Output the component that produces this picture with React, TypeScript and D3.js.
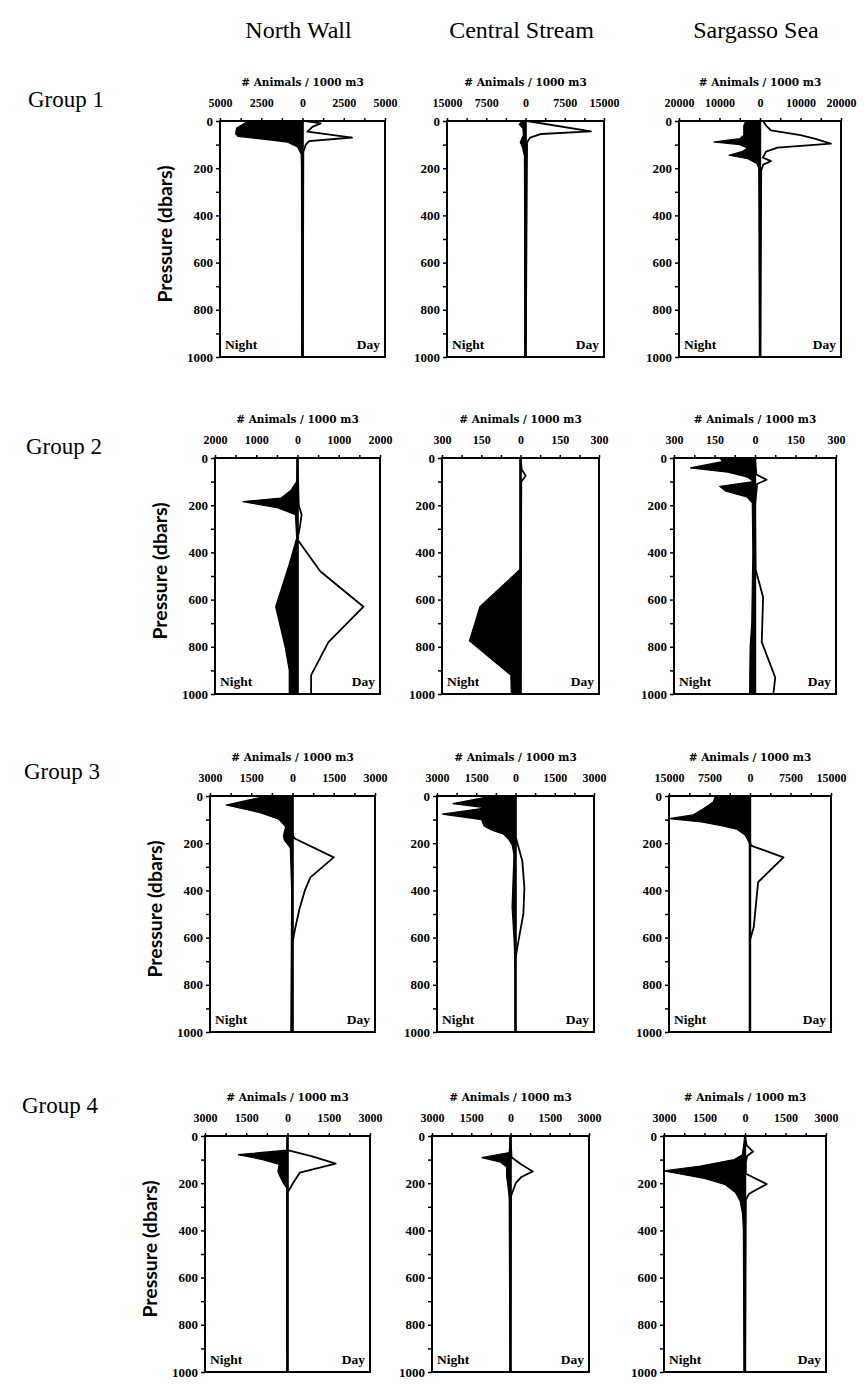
import React, { useEffect, useRef } from 'react';
import * as d3 from 'd3';

type Pt = [number, number]; // [pressure (dbar), animals per 1000 m3]

const columns = ['North Wall', 'Central Stream', 'Sargasso Sea'];
const groups = ['Group 1', 'Group 2', 'Group 3', 'Group 4'];
const pressureTicks = [0, 200, 400, 600, 800, 1000];
// axis half-range per group (rows) and site (columns)
const axisMax = [
  [5000, 15000, 20000],
  [2000, 300, 300],
  [3000, 3000, 15000],
  [3000, 3000, 3000],
];

// Group 1
const g1NorthNight: Pt[] = [[0, -3300], [10, -3500], [30, -4000], [55, -4050], [65, -3900], [80, -2000], [90, -900], [110, -300], [140, -80], [200, -60], [1000, -50]];
const g1NorthDay: Pt[] = [[0, 200], [10, 1100], [25, 600], [45, 300], [70, 3000], [85, 400], [100, 200], [130, 50], [1000, 20]];
const g1CentralNight: Pt[] = [[0, -600], [15, -1200], [30, -500], [60, -400], [90, -1000], [110, -600], [150, -200], [1000, -100]];
const g1CentralDay: Pt[] = [[0, 300], [44, 12500], [55, 3000], [70, 900], [90, 300], [1000, 50]];
const g1SargassoNight: Pt[] = [[0, -3500], [20, -4000], [60, -4000], [75, -5000], [89, -11500], [100, -5000], [115, -3000], [130, -4500], [145, -7700], [160, -3000], [180, -800], [200, -300], [1000, -100]];
const g1SargassoDay: Pt[] = [[0, 800], [20, 1500], [40, 2700], [60, 10000], [75, 13500], [96, 17500], [113, 4300], [130, 1500], [155, 700], [170, 2700], [185, 800], [210, 300], [1000, 100]];

// Group 2
const g2NorthNight: Pt[] = [[0, 0], [100, -20], [135, -150], [170, -400], [185, -1330], [210, -500], [240, -50], [340, -20], [450, -200], [630, -530], [800, -300], [900, -200], [1000, -200]];
const g2NorthDay: Pt[] = [[0, 0], [200, 30], [240, 100], [290, 60], [345, 0], [480, 550], [630, 1600], [780, 750], [920, 330], [1000, 330]];
const g2CentralNight: Pt[] = [[0, 0], [470, 0], [630, -155], [775, -195], [920, -37], [1000, -35]];
const g2CentralDay: Pt[] = [[0, 0], [50, 5], [75, 20], [100, 3], [1000, 0]];
const g2SargassoNight: Pt[] = [[0, -130], [15, -120], [42, -240], [60, -100], [80, -30], [100, -5], [120, -130], [140, -110], [165, -30], [190, -10], [400, -8], [700, -12], [800, -18], [1000, -20]];
const g2SargassoDay: Pt[] = [[0, 0], [70, 5], [92, 43], [110, 8], [200, 0], [470, 2], [590, 30], [780, 25], [930, 75], [1000, 68]];

// Group 3
const g3NorthNight: Pt[] = [[0, -950], [38, -2420], [70, -1200], [98, -500], [130, -250], [170, -330], [185, -300], [220, -80], [400, -30], [1000, -60]];
const g3NorthDay: Pt[] = [[0, 0], [165, 0], [180, 80], [260, 1500], [345, 650], [400, 450], [480, 250], [560, 100], [620, 0], [1000, 0]];
const g3CentralNight: Pt[] = [[0, -900], [32, -2400], [50, -1100], [77, -2800], [100, -1300], [127, -1200], [145, -900], [162, -450], [185, -250], [210, -120], [250, -60], [470, -130], [620, -50], [770, -10], [1000, 0]];
const g3CentralDay: Pt[] = [[0, 0], [170, 0], [275, 260], [390, 340], [500, 300], [610, 120], [690, 0], [1000, 0]];
const g3SargassoNight: Pt[] = [[0, -6400], [25, -6800], [55, -8700], [80, -10500], [96, -15000], [110, -9000], [125, -5500], [140, -2500], [165, -900], [200, -100], [1000, -100]];
const g3SargassoDay: Pt[] = [[0, 0], [195, 0], [210, 200], [260, 6200], [365, 1500], [555, 700], [610, 0], [1000, 0]];

// Group 4
const g4NorthNight: Pt[] = [[0, 0], [60, -20], [79, -1800], [100, -900], [120, -300], [150, -350], [170, -280], [200, -150], [220, -30], [1000, -20]];
const g4NorthDay: Pt[] = [[0, 0], [60, 0], [86, 900], [117, 1750], [155, 450], [200, 200], [240, 0], [1000, 0]];
const g4CentralNight: Pt[] = [[0, 0], [70, -50], [92, -1100], [110, -400], [130, -150], [170, -150], [210, -100], [260, -50], [1000, -20]];
const g4CentralDay: Pt[] = [[0, 0], [90, 40], [120, 400], [150, 850], [175, 400], [200, 200], [255, 20], [1000, 0]];
const g4SargassoNight: Pt[] = [[0, 0], [80, -100], [100, -400], [127, -1650], [148, -3000], [165, -2200], [180, -1500], [205, -750], [240, -350], [275, -180], [330, -90], [400, -60], [1000, -40]];
const g4SargassoDay: Pt[] = [[0, 0], [40, 60], [66, 300], [85, 80], [110, 30], [160, 30], [204, 800], [245, 150], [270, 30], [1000, 0]];

const nightProfiles = [
  [g1NorthNight, g1CentralNight, g1SargassoNight],
  [g2NorthNight, g2CentralNight, g2SargassoNight],
  [g3NorthNight, g3CentralNight, g3SargassoNight],
  [g4NorthNight, g4CentralNight, g4SargassoNight],
];
const dayProfiles = [
  [g1NorthDay, g1CentralDay, g1SargassoDay],
  [g2NorthDay, g2CentralDay, g2SargassoDay],
  [g3NorthDay, g3CentralDay, g3SargassoDay],
  [g4NorthDay, g4CentralDay, g4SargassoDay],
];

const App = () => {
  const svgRef = useRef<SVGSVGElement>(null);

  useEffect(() => {
    const width = 864;
    const height = 1386;
    const rowTop = [121, 458, 796, 1136];
    const groupLabelY = [107, 454, 779, 1113];
    const colLeft = [220, 447, 679];
    const colWidth = [165, 157, 162];
    const rowShift = -5; // scan skew: each row sits a bit further left
    const panelH = 236;
    const serif = '"Liberation Serif", "Times New Roman", serif';
    const wideSerif = '"DejaVu Serif", serif';
    const sans = 'Lato, "Open Sans", sans-serif';

    const svg = d3.select(svgRef.current)
      .attr('width', width)
      .attr('height', height)
      .attr('viewBox', [0, 0, width, height]);
    svg.selectAll('*').remove();

    svg.append('rect').attr('width', width).attr('height', height).attr('fill', '#fff');

    // column titles
    columns.forEach((c, j) => {
      svg.append('text')
        .attr('x', colLeft[j] + colWidth[j] / 2 - 4)
        .attr('y', 38)
        .attr('text-anchor', 'middle')
        .attr('font-family', serif)
        .attr('font-size', 24)
        .text(c);
    });

    groups.forEach((gName, i) => {
      svg.append('text')
        .attr('x', 28 - i * 2)
        .attr('y', groupLabelY[i])
        .attr('font-family', serif)
        .attr('font-size', 23)
        .text(gName);

      columns.forEach((_, j) => {
        const left = colLeft[j] + i * rowShift;
        const right = left + colWidth[j];
        const top = rowTop[i];
        const bottom = top + panelH;
        const m = axisMax[i][j];

        const x = d3.scaleLinear().domain([-m, m]).range([left, right]);
        const y = d3.scaleLinear().domain([0, 1000]).range([top, bottom]);

        const g = svg.append('g');

        const area = d3.area<Pt>()
          .y((d) => y(d[0]))
          .x0(x(0))
          .x1((d) => x(d[1]));

        // night: filled black to the left
        g.append('path')
          .datum(nightProfiles[i][j])
          .attr('d', area)
          .attr('fill', '#000')
          .attr('stroke', '#000')
          .attr('stroke-width', 1.2);

        // day: open profile to the right
        g.append('path')
          .datum(dayProfiles[i][j])
          .attr('d', area)
          .attr('fill', '#fff')
          .attr('stroke', '#000')
          .attr('stroke-width', 1.8)
          .attr('stroke-linejoin', 'round');

        // zero line
        g.append('line')
          .attr('x1', x(0)).attr('x2', x(0))
          .attr('y1', y(0)).attr('y2', y(1000))
          .attr('stroke', '#000')
          .attr('stroke-width', 2.4);

        // frame
        g.append('rect')
          .attr('x', left).attr('y', top)
          .attr('width', right - left).attr('height', bottom - top)
          .attr('fill', 'none')
          .attr('stroke', '#000')
          .attr('stroke-width', 2);

        // top axis: ticks every quarter of the half-range, labels every half
        const xTicks = d3.range(-4, 5).map((k) => (k * m) / 4);
        g.append('g')
          .attr('transform', `translate(0,${top})`)
          .call(d3.axisTop(x)
            .tickValues(xTicks)
            .tickSize(3)
            .tickPadding(11)
            .tickFormat((v, k) => (k % 2 === 0 ? String(Math.abs(+v)) : '')))
          .call((a) => a.select('.domain').remove())
          .call((a) => a.selectAll('line').attr('stroke-width', 1.5))
          .call((a) => a.selectAll('text')
            .attr('font-family', serif)
            .attr('font-weight', 'bold')
            .attr('font-size', 12));

        g.append('text')
          .attr('x', x(0))
          .attr('y', top - 35)
          .attr('text-anchor', 'middle')
          .attr('font-family', wideSerif)
          .attr('font-weight', 'bold')
          .attr('font-size', 10.5)
          .text('# Animals / 1000 m3');

        // left axis
        g.append('g')
          .attr('transform', `translate(${left},0)`)
          .call(d3.axisLeft(y)
            .tickValues(d3.range(0, 1001, 100))
            .tickSize(4)
            .tickPadding(3)
            .tickFormat((v) => (pressureTicks.includes(+v) ? String(v) : '')))
          .call((a) => a.select('.domain').remove())
          .call((a) => a.selectAll('line').attr('stroke-width', 1.5))
          .call((a) => a.selectAll('text')
            .attr('font-family', serif)
            .attr('font-weight', 'bold')
            .attr('font-size', 13));

        g.append('text')
          .attr('x', left + 5)
          .attr('y', bottom - 8)
          .attr('font-family', serif)
          .attr('font-weight', 'bold')
          .attr('font-size', 13.5)
          .text('Night');
        g.append('text')
          .attr('x', right - 5)
          .attr('y', bottom - 8)
          .attr('text-anchor', 'end')
          .attr('font-family', serif)
          .attr('font-weight', 'bold')
          .attr('font-size', 13.5)
          .text('Day');

        if (j === 0) {
          g.append('text')
            .attr('transform', `translate(${left - 48},${(top + bottom) / 2 - 5}) rotate(-90)`)
            .attr('text-anchor', 'middle')
            .attr('font-family', sans)
            .attr('font-weight', 'bold')
            .attr('font-size', 19.5)
            .text('Pressure (dbars)');
        }
      });
    });
  }, []);

  return (
    <svg ref={svgRef} style={{ position: 'absolute', left: 0, top: 0, display: 'block' }}></svg>
  );
};

export default App;
